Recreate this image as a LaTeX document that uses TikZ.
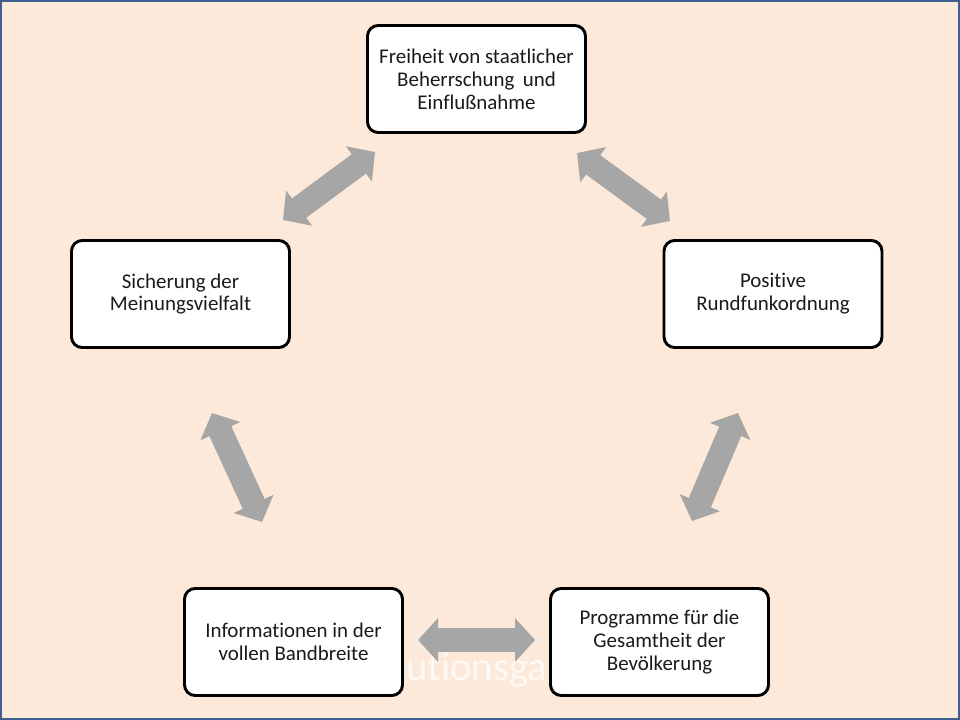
\documentclass[tikz,border=0pt]{standalone}
\usepackage{fontspec}
\setmainfont{Carlito}[Ligatures=NoCommon]
\usetikzlibrary{arrows.meta}
\definecolor{bg}{HTML}{FDE9D9}
\definecolor{framecol}{HTML}{3F5F94}
\definecolor{arr}{HTML}{A6A6A6}
\definecolor{txt}{HTML}{1A1A1A}
\begin{document}
\begin{tikzpicture}[x=0.75pt,y=-0.75pt,
  box/.style={draw=black, line width=2.2pt, fill=white, rounded corners=8pt,
    minimum width=163.5pt, minimum height=80.25pt, align=center, text=txt,
    font=\fontsize{15.7}{17.2}\selectfont},
  dbl/.style={draw=arr, line width=18pt,
    {Triangle[length=15pt,width=32pt]}-{Triangle[length=15pt,width=32pt]}}]
\useasboundingbox (0,0) rectangle (960,720);
\fill[bg] (0,0) rectangle (960,720);
\draw[framecol, line width=1.5pt] (1,1) rectangle (959,719);
% faded title text behind boxes
\node[anchor=base west, inner sep=0pt, text=white, text opacity=0.75,
  font=\fontsize{30.5}{32}\selectfont] (title) at (406,680) {utionsga};
% boxes
\node[box] (top) at (476.5,79) {Freiheit von staatlicher\\Beherrschung\, und\\Einflußnahme};
\node[box] (left) at (180.5,294) {Sicherung der\\Meinungsvielfalt};
\node[box] (right) at (773,294) {Positive\\Rundfunkordnung};
\node[box] (bl) at (293.5,642) {Informationen in der\\vollen Bandbreite};
\node[box] (br) at (659.5,642) {Programme für die\\Gesamtheit der\\Bevölkerung};
% arrow end points
\coordinate (a1) at (283,220);
\coordinate (a2) at (375,152);
\coordinate (b1) at (577,153);
\coordinate (b2) at (670,221);
\coordinate (c1) at (212,413);
\coordinate (c2) at (262,522);
\coordinate (d1) at (738,413);
\coordinate (d2) at (692,521);
\coordinate (e1) at (418,640);
\coordinate (e2) at (535,640);
\draw[dbl] (a1) -- (a2);
\draw[dbl] (b1) -- (b2);
\draw[dbl] (c1) -- (c2);
\draw[dbl] (d1) -- (d2);
\draw[dbl] (e1) -- (e2);
\end{tikzpicture}
\end{document}
